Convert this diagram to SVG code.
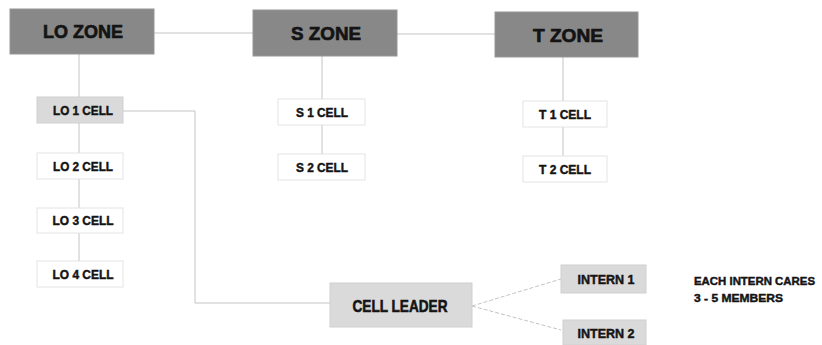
<svg xmlns="http://www.w3.org/2000/svg" width="822" height="345" viewBox="0 0 822 345">
<style>
.t{font-family:"Liberation Sans Narrow","Liberation Sans",Arial,sans-serif;font-weight:bold;fill:#141414;stroke:#141414;stroke-width:0.45;text-anchor:middle}
.zone{fill:#888888;stroke:#969696;stroke-width:1}
.cellw{fill:#ffffff;stroke:#e4e4e4;stroke-width:1}
.cellg{fill:#dadada;stroke:#d0d0d0;stroke-width:1}
.con{fill:none;stroke:#c4c4c4;stroke-width:1}
.zt{font-size:19px;stroke-width:0.7}
.ct{font-size:12.5px}
</style>
<rect width="822" height="345" fill="#ffffff"/>
<g id="connectors">
<path class="con" d="M154 33H253"/>
<path class="con" d="M397 34H495"/>
<path class="con" d="M79 54V261"/>
<path class="con" d="M322 56V154"/>
<path class="con" d="M563 57V156"/>
<path class="con" d="M123 111H195V303H330"/>
<path class="con" d="M472 306L561 279" stroke-dasharray="4 2"/>
<path class="con" d="M472 306L561 330" stroke-dasharray="4 2"/>
</g>
<g id="lo-zone"><rect class="zone" x="10" y="9" width="144" height="45"/><text class="t zt" x="83" y="38" textLength="80" lengthAdjust="spacingAndGlyphs">LO ZONE</text></g>
<g id="s-zone"><rect class="zone" x="253" y="10" width="144" height="46"/><text class="t zt" x="326" y="40" textLength="70" lengthAdjust="spacingAndGlyphs">S ZONE</text></g>
<g id="t-zone"><rect class="zone" x="495" y="12" width="143" height="45"/><text class="t zt" x="568" y="42" textLength="70" lengthAdjust="spacingAndGlyphs">T ZONE</text></g>
<g id="lo1"><rect class="cellg" x="37" y="97" width="86" height="26"/><text class="t ct" x="83" y="115" textLength="60" lengthAdjust="spacingAndGlyphs">LO 1 CELL</text></g>
<g id="lo2"><rect class="cellw" x="37" y="153" width="86" height="26"/><text class="t ct" x="83" y="171" textLength="60" lengthAdjust="spacingAndGlyphs">LO 2 CELL</text></g>
<g id="lo3"><rect class="cellw" x="37" y="208" width="86" height="25"/><text class="t ct" x="83" y="225" textLength="61" lengthAdjust="spacingAndGlyphs">LO 3 CELL</text></g>
<g id="lo4"><rect class="cellw" x="37" y="261" width="86" height="26"/><text class="t ct" x="83" y="279" textLength="61" lengthAdjust="spacingAndGlyphs">LO 4 CELL</text></g>
<g id="s1"><rect class="cellw" x="278" y="99" width="87" height="26"/><text class="t ct" x="322" y="117" textLength="52" lengthAdjust="spacingAndGlyphs">S 1 CELL</text></g>
<g id="s2"><rect class="cellw" x="278" y="154" width="87" height="26"/><text class="t ct" x="322" y="172" textLength="52" lengthAdjust="spacingAndGlyphs">S 2 CELL</text></g>
<g id="t1"><rect class="cellw" x="523" y="101" width="84" height="26"/><text class="t ct" x="565" y="119" textLength="52" lengthAdjust="spacingAndGlyphs">T 1 CELL</text></g>
<g id="t2"><rect class="cellw" x="523" y="156" width="84" height="26"/><text class="t ct" x="565" y="174" textLength="52" lengthAdjust="spacingAndGlyphs">T 2 CELL</text></g>
<g id="cell-leader"><rect class="cellg" x="330" y="283" width="142" height="44"/><text class="t" style="font-size:17px;stroke-width:0.6" x="400" y="312" textLength="95" lengthAdjust="spacingAndGlyphs">CELL LEADER</text></g>
<g id="intern1"><rect class="cellg" x="561" y="265" width="85" height="28"/><text class="t" style="font-size:13.5px" x="606" y="284" textLength="57" lengthAdjust="spacingAndGlyphs">INTERN 1</text></g>
<g id="intern2"><rect class="cellg" x="563" y="320" width="83" height="25"/><text class="t" style="font-size:13.5px" x="606" y="338" textLength="57" lengthAdjust="spacingAndGlyphs">INTERN 2</text></g>
<g id="note">
<text class="t" style="font-size:11.5px;text-anchor:start" x="694" y="285" textLength="121" lengthAdjust="spacingAndGlyphs">EACH INTERN CARES</text>
<text class="t" style="font-size:11.5px;text-anchor:start" x="694" y="302" textLength="89" lengthAdjust="spacingAndGlyphs">3 - 5 MEMBERS</text>
</g>
</svg>
